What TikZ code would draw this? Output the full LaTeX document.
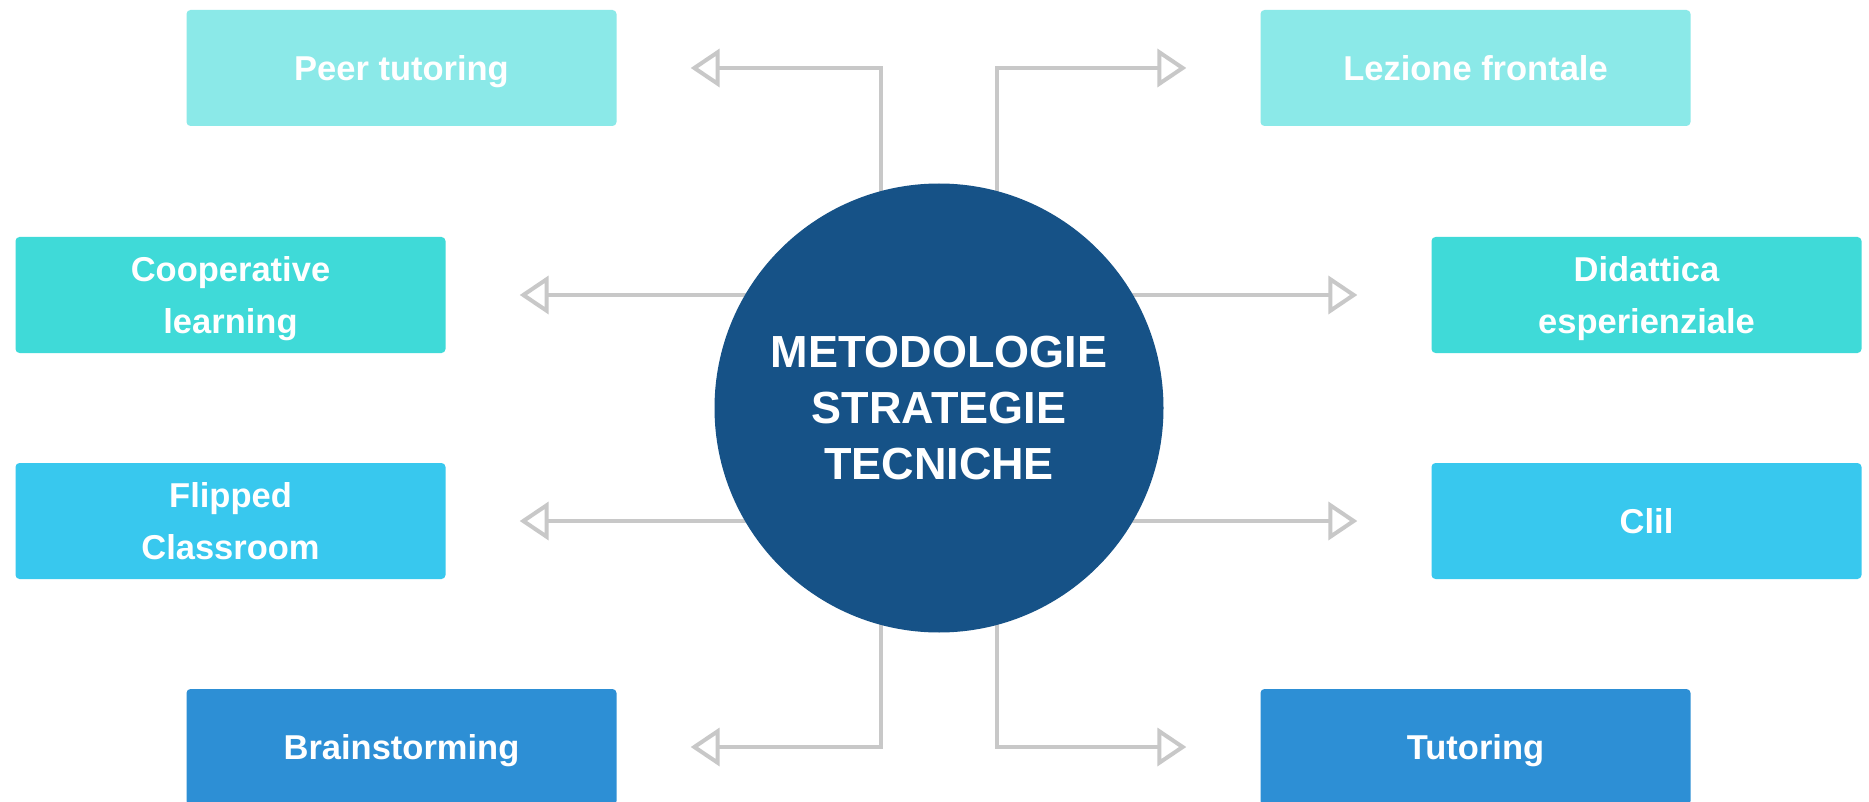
\documentclass[tikz,border=0pt]{standalone}
\usepackage{fontspec}
\setmainfont{Liberation Sans}
\usetikzlibrary{arrows.meta}
\definecolor{boxA}{HTML}{8BE9E8}
\definecolor{boxB}{HTML}{3FDAD8}
\definecolor{boxC}{HTML}{38C8EE}
\definecolor{boxD}{HTML}{2D8FD5}
\definecolor{hub}{HTML}{165287}
\definecolor{lineg}{HTML}{C8C8C8}
\pgfdeclarelayer{back}
\pgfdeclarelayer{bg}
\pgfsetlayers{back,bg,main}
\begin{document}
\begin{tikzpicture}[x=1pt,y=-1pt,
  box/.style={rectangle, rounded corners=4pt, minimum width=430pt, minimum height=116pt,
    inner sep=0pt, text=white, align=center, text depth=0pt,
    font=\fontsize{34.5}{52}\selectfont\bfseries},
  conn/.style={draw=lineg, line width=4pt, shorten >=74pt,
    -{Triangle[open, length=29pt, width=38pt]}},
  hubnode/.style={circle, fill=hub, minimum size=449pt, inner sep=0pt, text=white,
    align=center, font=\fontsize{45}{56}\selectfont\bfseries}
]
\useasboundingbox (0,0) rectangle (1869,802);
\begin{pgfonlayer}{back}
  \fill[white] (0,0) rectangle (1869,802);
\end{pgfonlayer}

\node[hubnode] (c) at (939,408) {METODOLOGIE\\STRATEGIE\\TECNICHE};

\node[box, fill=boxA] (pt) at (401.5,68) {Peer tutoring};
\node[box, fill=boxA] (lf) at (1475.5,68) {Lezione frontale};
\node[box, fill=boxB] (cl) at (230.5,295) {Cooperative\\learning};
\node[box, fill=boxB] (de) at (1646.5,295) {Didattica\\esperienziale};
\node[box, fill=boxC] (fc) at (230.5,521) {Flipped\\Classroom};
\node[box, fill=boxC] (cc) at (1646.5,521) {Clil};
\node[box, fill=boxD] (bs) at (401.5,747) {Brainstorming};
\node[box, fill=boxD] (tu) at (1475.5,747) {Tutoring};

\begin{pgfonlayer}{bg}
  \draw[conn] ([xshift=-58pt]c.center) |- (pt.east);
  \draw[conn] ([xshift=58pt]c.center) |- (lf.west);
  \draw[conn] (c.center |- cl.east) -- (cl.east);
  \draw[conn] (c.center |- de.west) -- (de.west);
  \draw[conn] (c.center |- fc.east) -- (fc.east);
  \draw[conn] (c.center |- cc.west) -- (cc.west);
  \draw[conn] ([xshift=-58pt]c.center) |- (bs.east);
  \draw[conn] ([xshift=58pt]c.center) |- (tu.west);
\end{pgfonlayer}
\end{tikzpicture}
\end{document}
